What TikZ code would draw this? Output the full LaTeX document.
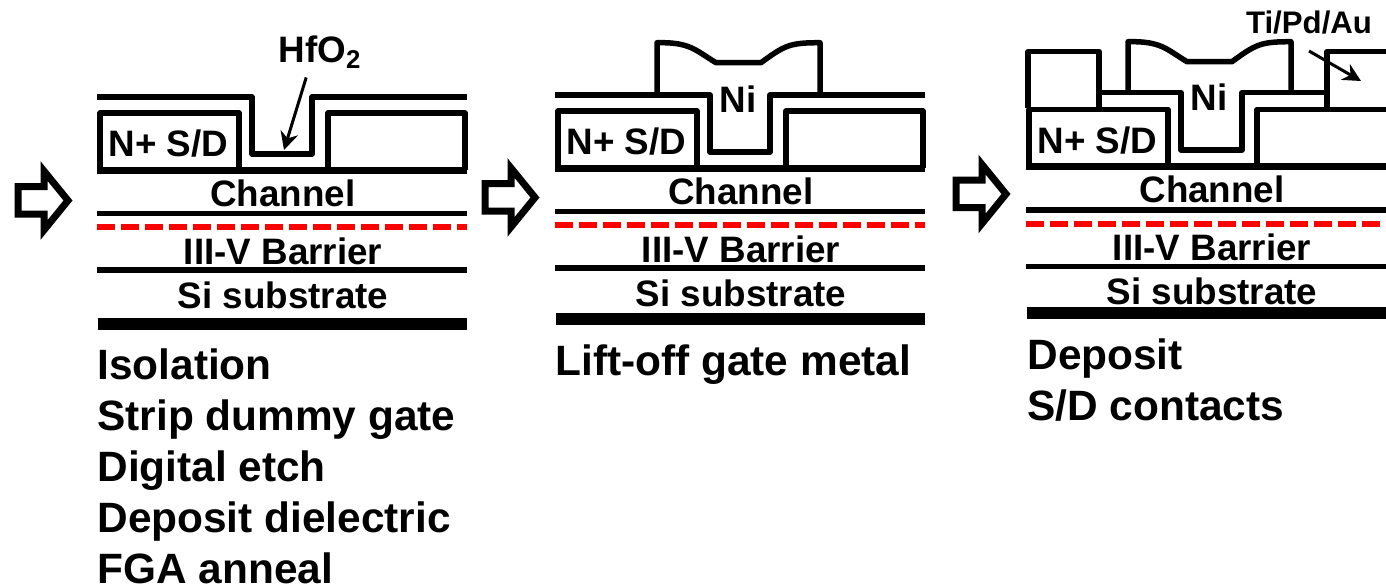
\documentclass[tikz,border=0pt]{standalone}
\usepackage{fontspec}
\setmainfont{Liberation Sans}
\usepackage{tkz-euclide}
\usetikzlibrary{arrows.meta}

\tikzset{
  layer/.style={line width=2.75pt,line join=round,line cap=butt},
  redlayer/.style={line width=3pt,line cap=butt,red,dash pattern=on 9pt off 3pt},
  floor/.style={line width=6pt,line cap=butt},
  blockarrow/.style={line width=3.5pt,line join=miter,miter limit=10},
  pointer/.style={line width=1.5pt,line cap=butt,-{Stealth[length=9pt,width=9pt]}},
  label/.style={font=\fontsize{18.4}{20}\selectfont\bfseries,inner sep=1pt},
  smalllabel/.style={font=\fontsize{15.6}{18}\selectfont\bfseries,inner sep=1pt},
  caption/.style={font=\fontsize{21.2}{25.5}\selectfont\bfseries,align=left,anchor=base west,inner sep=0pt},
}

\newcommand{\DrawStack}[4]{% prefix, dx, dy, y of the floor
  \begin{scope}[shift={(#2,#3)}]
    \tkzDefPoints{97/170/#1a,467/170/#1b,97/213.5/#1c,467/213.5/#1d,97/227/#1e,467/227/#1f,97/270/#1g,467/270/#1h}
    \tkzDefPoints{100/170/#1i,100/113/#1j,239/113/#1k,239/170/#1l,328/170/#1m,328/113/#1n,465/113/#1o,465/170/#1p}
    \tkzDefPoints{283/193/#1cp,283/251/#1bp,283/295/#1sp,168.5/144/#1np,98/#4/#1q,467/#4/#1r}
    \tkzDrawSegments[layer,line width=3.5pt](#1a,#1b)
    \tkzDrawSegments[layer](#1c,#1d #1g,#1h)
    \tkzDrawSegments[redlayer](#1e,#1f)
    \tkzDrawSegments[floor](#1q,#1r)
    \tkzDrawPolySeg[layer](#1i,#1j,#1k,#1l)
    \tkzDrawPolySeg[layer](#1m,#1n,#1o,#1p)
    \node[label] (#1chan) at (#1cp) {Channel};
    \node[label] (#1barr) at (#1bp) {III-V Barrier};
    \node[label] (#1subs) at (#1sp) {Si substrate};
    \node[label] (#1nsd) at (#1np) {N+ S/D};
  \end{scope}
}

\newcommand{\DrawArrow}[3]{% prefix, dx, dy
  \begin{scope}[shift={(#2,#3)}]
    \tkzDefPoints{18/186.5/#1a,44/186.5/#1b,44/171/#1c,68/200.5/#1d,44/230/#1e,44/214/#1f,18/214/#1g}
    \tkzDrawPolygon[blockarrow](#1a,#1b,#1c,#1d,#1e,#1f,#1g)
  \end{scope}
}

\begin{document}
\begin{tikzpicture}[x=.5pt,y=-.5pt]
  \useasboundingbox (0,0) rectangle (1386,585);
  \clip (0,0) rectangle (1386,585);

  % isolation
  \DrawArrow{ar1}{0}{0}
  \DrawStack{p1}{0}{0}{324}
  \tkzDefPoints{97/97/A,252/97/B,252/154/C,312/154/D,312/97/E,467/97/F,284/150/G}
  \tkzDrawPolySeg[layer](A,B,C,D,E,F)
  \node[label] (hfo) at (320,52) {HfO\textsubscript{2}};
  \draw[pointer,shorten <=3.5pt] (hfo.-122) -- (G);
  \node[caption] (cap1) at (97,583) {Isolation\\Strip dummy gate\\Digital etch\\Deposit dielectric\\FGA anneal};

  % gate metal
  \DrawArrow{ar2}{467}{-3}
  \DrawStack{p2}{458}{-2}{321}
  \tkzDefPoints{555/95/H,710/95/I,710/152/J,770/152/K,770/95/L,925/95/M}
  \tkzDrawPolySeg[layer](H,I,J,K,L,M)
  \tkzDefPoints{657/95/N,657/42.7/O,716/62.7/P,761/62.7/Q,820/42.7/R,820/95/S}
  \draw[layer] (N) -- (O) .. controls (690,42) and (695,50) .. (P) -- (Q)
    .. controls (785,45) and (790,42.7) .. (R) -- (S);
  \node[label] (ni2) at (738,99) {Ni};
  \node[caption] (cap2) at (555,375) {Lift-off gate metal};

  % contacts
  \DrawArrow{ar3}{938}{-6.5}
  \DrawStack{p3}{929}{-3.5}{316}
  \tkzDefPoints{1099/92.7/T,1181/92.7/U,1181/150/V,1242/150/W,1242/92.7/X,1327/92.7/Y}
  \tkzDrawPolySeg[layer](T,U,V,W,X,Y)
  \tkzDefPoints{1128/92.7/a,1128/41.7/b,1187/61.7/c,1232/61.7/d,1291/41.7/e,1291/92.7/f}
  \draw[layer] (a) -- (b) .. controls (1161,41) and (1166,49) .. (c) -- (d)
    .. controls (1256,44) and (1261,41.7) .. (e) -- (f);
  \tkzDefPoints{1028/108/g,1028/51.7/h,1099/51.7/i,1099/108/j,1327/108/k,1327/51.7/l,1400/51.7/m,1361/81/n}
  \tkzDrawPolySeg[layer](g,h,i,j)
  \tkzDrawPolySeg[layer](k,l,m)
  \node[label] (ni3) at (1209,97) {Ni};
  \node[smalllabel] (tpa) at (1309,23) {Ti/Pd/Au};
  \draw[pointer,shorten <=14pt] (tpa.-150) -- (n);
  \node[caption] (cap3) at (1027,420) {Deposit\\S/D contacts};
\end{tikzpicture}
\end{document}
